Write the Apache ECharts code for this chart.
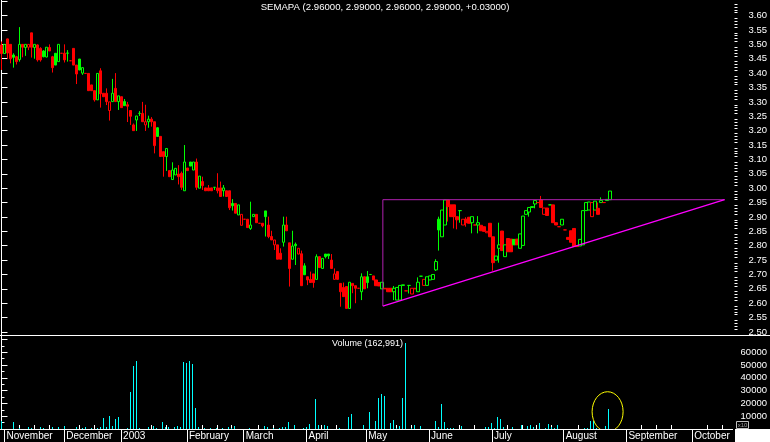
<!DOCTYPE html>
<html><head><meta charset="utf-8">
<script src="https://cdn.jsdelivr.net/npm/echarts@6/dist/echarts.min.js"></script>
<style>html,body{margin:0;padding:0;background:#000;}#c{width:770px;height:442px;}</style>
</head><body><div id="c"></div>
<script>
const chartTitle = 'SEMAPA (2.96000, 2.99000, 2.96000, 2.99000, +0.03000)';
const volumeTitle = 'Volume (162,991)';

const open = [3.498,3.468,3.519,3.500,3.463,3.457,3.447,3.500,3.489,3.490,3.540,3.489,3.498,3.486,3.477,3.456,3.489,3.457,3.469,3.440,
3.469,3.469,3.469,3.443,3.486,3.428,3.449,3.400,3.399,3.399,3.359,3.339,3.307,3.408,3.330,3.330,3.270,3.301,3.347,3.301,
3.318,3.301,3.290,3.270,3.220,3.237,3.260,3.260,3.220,3.231,3.240,3.231,3.210,3.180,3.127,3.110,3.061,3.030,3.046,3.049,
3.052,2.991,3.070,3.091,3.063,3.091,3.000,3.023,3.001,3.001,3.001,3.003,3.001,3.001,2.991,2.991,2.991,2.947,2.947,2.907,
2.871,2.892,2.892,2.860,2.901,2.909,2.878,2.878,2.921,2.872,2.832,2.803,2.803,2.774,2.812,2.872,2.810,2.753,2.805,2.771,
2.772,2.730,2.692,2.683,2.702,2.683,2.762,2.721,2.771,2.771,2.750,2.683,2.710,2.669,2.655,2.658,2.582,2.669,2.661,2.652,
2.640,2.692,2.692,2.700,2.695,2.681,2.672,2.650,2.652,2.652,2.652,2.640,2.611,2.611,2.662,2.643,2.662,2.632,2.650,2.640,
2.694,2.662,2.662,2.681,2.683,2.716,2.892,2.831,2.872,2.959,2.942,2.942,2.901,2.922,2.872,2.892,2.899,2.880,2.872,2.872,
2.871,2.866,2.845,2.878,2.831,2.750,2.791,2.851,2.762,2.825,2.823,2.822,2.823,2.791,2.801,2.909,2.917,2.933,2.945,2.950,
2.959,2.909,2.931,2.942,2.942,2.880,2.866,2.872,2.855,2.829,2.852,2.860,2.799,2.799,2.803,2.922,2.924,2.901,2.924,2.930,
2.950,2.950,2.957,2.960];
const close = [3.468,3.500,3.470,3.450,3.455,3.440,3.500,3.490,3.500,3.500,3.490,3.500,3.446,3.446,3.457,3.490,3.477,3.419,3.428,3.500,
3.469,3.446,3.470,3.443,3.428,3.397,3.411,3.419,3.399,3.339,3.339,3.307,3.399,3.328,3.318,3.301,3.300,3.330,3.301,3.321,
3.280,3.287,3.285,3.250,3.200,3.251,3.260,3.231,3.231,3.240,3.231,3.148,3.180,3.110,3.110,3.138,3.040,3.063,3.069,3.040,
3.003,3.091,3.061,3.077,3.091,3.003,3.042,3.009,2.991,2.991,2.991,3.003,2.991,2.971,3.001,2.971,2.932,2.939,2.913,2.942,
2.909,2.892,2.863,2.872,2.909,2.880,2.878,2.869,2.901,2.832,2.820,2.820,2.753,2.753,2.872,2.852,2.721,2.799,2.800,2.791,
2.661,2.699,2.681,2.672,2.672,2.762,2.724,2.756,2.762,2.765,2.721,2.702,2.683,2.640,2.623,2.582,2.673,2.661,2.652,2.652,
2.692,2.650,2.672,2.700,2.681,2.661,2.660,2.673,2.650,2.640,2.640,2.652,2.655,2.662,2.664,2.643,2.662,2.652,2.652,2.673,
2.694,2.683,2.692,2.695,2.700,2.745,2.855,2.924,2.959,2.936,2.901,2.901,2.890,2.922,2.892,2.880,2.878,2.901,2.872,2.880,
2.852,2.850,2.850,2.831,2.741,2.764,2.803,2.783,2.803,2.779,2.779,2.803,2.803,2.841,2.903,2.922,2.933,2.936,2.957,2.950,
2.933,2.931,2.905,2.942,2.880,2.872,2.866,2.892,2.855,2.822,2.812,2.797,2.797,2.822,2.922,2.950,2.952,2.950,2.955,2.909,
2.957,2.950,2.961,2.990];
const low = [3.411,3.468,3.450,3.434,3.419,3.430,3.440,3.455,3.460,3.480,3.454,3.450,3.440,3.440,3.455,3.455,3.477,3.402,3.428,3.440,
3.469,3.437,3.440,3.443,3.428,3.362,3.410,3.394,3.399,3.339,3.339,3.301,3.307,3.280,3.318,3.289,3.235,3.300,3.300,3.272,
3.280,3.287,3.230,3.220,3.200,3.199,3.251,3.230,3.199,3.210,3.214,3.121,3.180,3.110,3.040,3.060,3.040,3.030,3.046,3.013,
2.994,2.991,3.061,3.077,3.063,2.994,3.000,2.994,2.991,2.991,2.991,2.994,2.982,2.971,2.971,2.971,2.924,2.922,2.913,2.907,
2.871,2.892,2.863,2.855,2.901,2.880,2.878,2.864,2.832,2.826,2.820,2.785,2.753,2.753,2.797,2.852,2.658,2.753,2.733,2.771,
2.661,2.699,2.663,2.672,2.654,2.683,2.724,2.721,2.756,2.754,2.721,2.683,2.683,2.588,2.623,2.582,2.582,2.635,2.600,2.652,
2.611,2.650,2.652,2.700,2.681,2.661,2.660,2.650,2.650,2.640,2.640,2.611,2.611,2.611,2.662,2.643,2.634,2.632,2.650,2.640,
2.694,2.662,2.662,2.681,2.683,2.712,2.783,2.831,2.872,2.884,2.901,2.860,2.857,2.880,2.872,2.866,2.878,2.843,2.872,2.843,
2.852,2.850,2.845,2.831,2.713,2.750,2.741,2.783,2.762,2.779,2.779,2.803,2.803,2.791,2.801,2.909,2.901,2.933,2.930,2.950,
2.933,2.909,2.905,2.942,2.880,2.872,2.866,2.872,2.855,2.822,2.812,2.797,2.797,2.799,2.803,2.922,2.924,2.901,2.924,2.909,
2.950,2.950,2.957,2.960];
const high = [3.510,3.500,3.520,3.500,3.469,3.460,3.560,3.500,3.500,3.500,3.540,3.500,3.500,3.490,3.480,3.490,3.500,3.460,3.470,3.500,
3.469,3.500,3.480,3.443,3.486,3.428,3.449,3.420,3.399,3.399,3.359,3.339,3.399,3.417,3.330,3.347,3.300,3.380,3.400,3.321,
3.318,3.310,3.300,3.270,3.225,3.251,3.268,3.300,3.290,3.252,3.247,3.231,3.212,3.180,3.127,3.138,3.061,3.090,3.069,3.080,
3.058,3.150,3.070,3.091,3.091,3.103,3.042,3.040,3.001,3.011,3.001,3.003,3.052,3.023,3.011,2.991,2.991,2.962,2.947,2.942,
2.909,2.892,2.892,2.953,2.909,2.909,2.878,2.878,2.921,2.901,2.852,2.820,2.803,2.791,2.901,2.901,2.810,2.852,2.811,2.791,
2.783,2.739,2.692,2.710,2.702,2.770,2.762,2.756,2.771,2.771,2.771,2.721,2.710,2.669,2.672,2.658,2.673,2.669,2.661,2.652,
2.704,2.692,2.712,2.700,2.695,2.681,2.672,2.673,2.652,2.652,2.652,2.660,2.655,2.662,2.664,2.643,2.662,2.652,2.652,2.690,
2.694,2.683,2.692,2.695,2.700,2.753,2.901,2.924,2.959,2.959,2.942,2.942,2.901,2.922,2.892,2.899,2.899,2.901,2.872,2.903,
2.871,2.866,2.850,2.878,2.831,2.764,2.880,2.851,2.803,2.825,2.823,2.822,2.823,2.841,2.903,2.922,2.933,2.936,2.957,2.950,
2.973,2.931,2.931,2.942,2.942,2.880,2.866,2.892,2.855,2.829,2.852,2.860,2.799,2.822,2.922,2.950,2.952,2.950,2.955,2.950,
2.968,2.950,2.961,2.990];
const volume = [6300,0,0,0,5500,0,1000,0,0,1300,800,0,0,1300,800,0,0,1300,0,1300,
0,2400,0,0,0,1300,0,800,1300,0,800,0,800,1300,8700,1300,10200,2400,7900,9400,
0,0,800,28600,49600,53500,800,0,0,1300,0,2400,800,0,5500,1300,1300,0,1300,2400,
1300,52200,51200,53500,50900,16500,1300,0,800,0,800,0,800,0,800,0,1300,800,2400,0,
0,0,0,800,0,0,0,0,2400,1300,0,800,0,800,1300,1800,5500,0,2900,0,
0,800,1300,3900,0,23400,2900,0,2900,2400,0,0,0,800,0,0,9400,11800,0,0,
0,2900,0,13400,0,6300,24400,27600,26000,0,4700,7100,800,2400,24400,67000,0,800,3100,0,
2400,0,0,0,0,6300,1300,19700,5500,800,800,800,0,0,2400,0,0,0,0,0,
0,0,1300,1300,4700,800,9400,7900,1600,0,0,1300,0,0,3100,0,2400,3100,1300,0,
4700,0,800,3900,1300,800,3100,0,0,0,0,0,0,0,0,800,800,6300,6300,800,
0,0,2400,15700];

const slotCount = 245;
const monthStart = [1,21,40,62,81,102,122,143,164,188,209,231];
const monthLabels = ['November','December','2003','February','March','April','May','June','July','August','September','October'];
const weekTicks = [6,11,16,26,31,36,45,50,55,67,72,77,86,91,96,107,112,117,127,132,137,148,153,158,169,174,179,184,193,198,203,214,219,224,236,241];
const priceLabels = ['2.50','2.55','2.60','2.65','2.70','2.75','2.80','2.85','2.90','2.95','3.00','3.05','3.10','3.15','3.20','3.25','3.30','3.35','3.40','3.45','3.50','3.55','3.60'];
const volumeLabels = ['10000','20000','30000','40000','50000','60000'];
const triangleTop = [[127.2, 2.96], [241.2, 2.96]];
const triangleSide = [[127.2, 2.96], [127.2, 2.59]];
const triangleBase = [[127.2, 2.59], [241.2, 2.96]];
const volumeCircle = [[202.7, 13500]];

const priceMin = 2.4896, priceMax = 3.6542;
const volMax = 72656;

const candles = open.map((o, i) => {
  const c = close[i];
  const up = i === 0 ? c >= o : c > close[i - 1];
  const col = up ? '#00ff00' : '#ff0000';
  const fill = c > o ? '#000000' : col;
  return { value: [i, o, c, low[i], high[i]],
    itemStyle: { color: fill, color0: fill, borderColor: col, borderColor0: col, borderWidth: 1 } };
});
const volData = volume.map((v, i) => [i, v]);

const majorPriceTicks = [];
for (let v = 250; v <= 365; v += 5) majorPriceTicks.push(v / 100);
const minorPriceTicks = [];
for (let v = 249; v <= 365; v++) if (v % 5) minorPriceTicks.push(v / 100);
const majorVolTicks = [10000,20000,30000,40000,50000,60000,70000];
const minorVolTicks = [5000,15000,25000,35000,45000,55000,65000];

const white = '#ffffff';
const font = 'Liberation Sans, Arial, sans-serif';
const chart = echarts.init(document.getElementById('c'), null, { renderer: 'canvas' });
const xBase = { type: 'value', min: -0.5, max: slotCount - 0.5, splitLine: { show: false } };
const yBase = { type: 'value', position: 'right', splitLine: { show: false } };

chart.setOption({
  backgroundColor: '#000000',
  animation: false,
  grid: [
    { left: 0, right: 35, top: 0, height: 335 },
    { left: 0, right: 35, top: 336, height: 93 }
  ],
  xAxis: [
    Object.assign({}, xBase, { gridIndex: 0, show: false }),
    Object.assign({}, xBase, { gridIndex: 1,
      axisLine: { show: true, lineStyle: { color: white, width: 1 } },
      axisTick: { show: true, customValues: monthStart, length: 13, lineStyle: { color: white } },
      axisLabel: { show: true, customValues: monthStart, color: white, fontSize: 10, fontFamily: font,
        align: 'left', margin: 2, padding: [0, 0, 0, 2],
        formatter: v => monthLabels[monthStart.indexOf(Math.round(v))] || '' } }),
    Object.assign({}, xBase, { gridIndex: 1,
      axisLine: { show: false },
      axisTick: { show: true, customValues: weekTicks, length: 4, lineStyle: { color: white } },
      axisLabel: { show: false } })
  ],
  yAxis: [
    Object.assign({}, yBase, { gridIndex: 0, min: priceMin, max: priceMax,
      axisLine: { show: true, lineStyle: { color: white } },
      axisTick: { show: true, customValues: majorPriceTicks, length: 6, lineStyle: { color: white } },
      axisLabel: { show: true, customValues: priceLabels.map(Number), color: white, fontSize: 9.5, fontFamily: font,
        margin: 14, formatter: v => v.toFixed(2) } }),
    Object.assign({}, yBase, { gridIndex: 0, min: priceMin, max: priceMax,
      axisLine: { show: false },
      axisTick: { show: true, customValues: minorPriceTicks, length: 3, lineStyle: { color: white } },
      axisLabel: { show: false } }),
    Object.assign({}, yBase, { gridIndex: 1, min: 0, max: volMax,
      axisLine: { show: true, lineStyle: { color: white } },
      axisTick: { show: true, customValues: majorVolTicks, length: 6, lineStyle: { color: white } },
      axisLabel: { show: true, customValues: volumeLabels.map(Number), color: white, fontSize: 9.5, fontFamily: font,
        margin: 8, formatter: v => String(v) } }),
    Object.assign({}, yBase, { gridIndex: 1, min: 0, max: volMax,
      axisLine: { show: false },
      axisTick: { show: true, customValues: minorVolTicks, length: 3, lineStyle: { color: white } },
      axisLabel: { show: false } })
  ],
  series: [
    { type: 'candlestick', xAxisIndex: 0, yAxisIndex: 0, barWidth: 3, data: candles, clip: false },
    { type: 'line', xAxisIndex: 0, yAxisIndex: 0, data: triangleTop, symbol: 'none', lineStyle: { color: '#b020b0', width: 1 }, silent: true },
    { type: 'line', xAxisIndex: 0, yAxisIndex: 0, data: triangleSide, symbol: 'none', lineStyle: { color: '#b020b0', width: 1 }, silent: true },
    { type: 'line', xAxisIndex: 0, yAxisIndex: 0, data: triangleBase, symbol: 'none', lineStyle: { color: '#ff00ff', width: 1.2 }, silent: true },
    { type: 'custom', xAxisIndex: 1, yAxisIndex: 2, data: volData, silent: true,
      renderItem: (params, api) => {
        const base = api.coord([api.value(0), 0]);
        const top = api.coord([api.value(0), api.value(1)]);
        const h = base[1] - top[1];
        if (h <= 0) return null;
        return { type: 'rect', shape: { x: Math.floor(base[0]), y: Math.round(top[1]), width: 1, height: Math.round(base[1]) - Math.round(top[1]) },
          style: { fill: '#00ffff' } };
      } },
    { type: 'custom', xAxisIndex: 1, yAxisIndex: 2, data: volumeCircle, silent: true,
      renderItem: (params, api) => {
        const p = api.coord([api.value(0), api.value(1)]);
        const cs = params.coordSys;
        return { type: 'ellipse', shape: { cx: p[0], cy: p[1], rx: 15.5, ry: 20 },
          style: { fill: null, stroke: '#ffff00', lineWidth: 1 },
          clipPath: { type: 'rect', shape: { x: cs.x, y: cs.y, width: cs.width, height: cs.height } } };
      } }
  ],
  graphic: [
    { type: 'line', shape: { x1: 0, y1: 335.5, x2: 770, y2: 335.5 }, style: { stroke: white, lineWidth: 1 } },
    { type: 'rect', shape: { x: 735, y: 429, width: 35, height: 13 }, style: { fill: white } },
    { type: 'rect', shape: { x: 736.5, y: 421.5, width: 12, height: 7 }, style: { fill: '#000', stroke: '#c0c0c0', lineWidth: 1 } },
    { type: 'text', x: 742.5, y: 425, style: { text: 'x10', fill: '#a0a0a0', font: '6px ' + font, align: 'center', verticalAlign: 'middle' } },
    { type: 'text', x: 385, y: 7, style: { text: chartTitle, fill: white, font: '9.6px ' + font, align: 'center', verticalAlign: 'middle' } },
    { type: 'text', x: 367.5, y: 344, style: { text: volumeTitle, fill: white, font: '9px ' + font, align: 'center', verticalAlign: 'middle' } }
  ]
});
</script></body></html>
